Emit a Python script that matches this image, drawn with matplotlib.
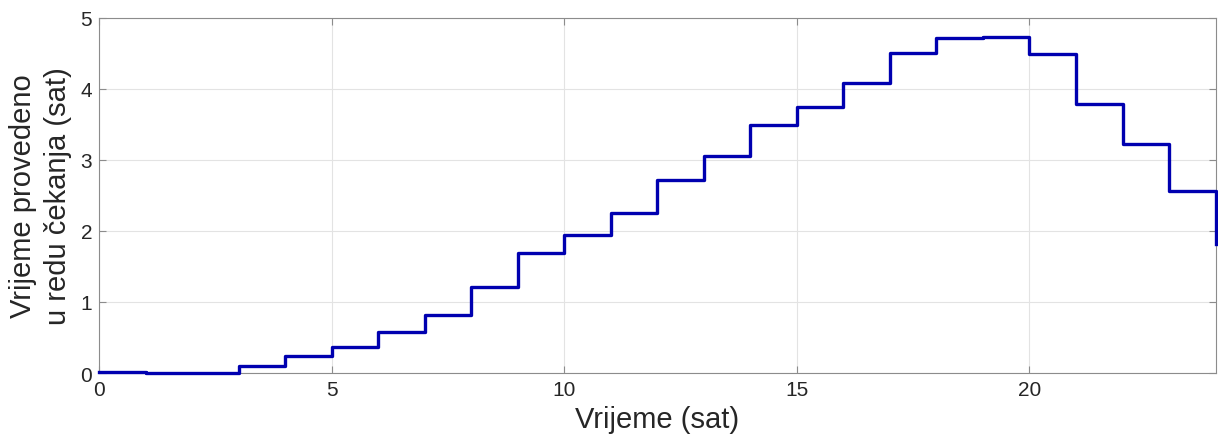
import numpy as np
import matplotlib.pyplot as plt

#===========================================
# data
hours = list(range(25))
wait = [0.01, 0.0, 0.0, 0.10, 0.24, 0.36, 0.58, 0.81, 1.21, 1.69,
        1.94, 2.25, 2.72, 3.05, 3.49, 3.75, 4.08, 4.50, 4.71, 4.73,
        4.49, 3.79, 3.22, 2.56, 1.82]
xticks = [0, 5, 10, 15, 20]
yticks = [0, 1, 2, 3, 4, 5]
#===========================================

plt.rcParams['font.family'] = ['Liberation Sans', 'DejaVu Sans']

fig = plt.figure(figsize=(12.18, 4.39), dpi=100)
ax = fig.add_axes([0.0813, 0.148, 0.9167, 0.809])

ax.plot(hours, wait, drawstyle='steps-post', color='#0000b0', lw=2.4,
        clip_on=False, zorder=3)

ax.set_xlim(0, 24)
ax.set_ylim(0, 5)
ax.set_xticks(xticks)
ax.set_yticks(yticks)
ax.grid(True, color='#e3e3e3', lw=0.8)
ax.set_axisbelow(True)

for s in ax.spines.values():
    s.set_color('#8c8c8c')
    s.set_linewidth(0.8)
ax.tick_params(direction='in', top=True, right=True, length=5,
               color='#8c8c8c', labelsize=15, labelcolor='#262626', pad=5)

ax.set_xlabel('Vrijeme (sat)', fontsize=21, color='#262626', labelpad=4)
ax.set_ylabel('Vrijeme provedeno\nu redu čekanja (sat)', fontsize=21,
              color='#262626', labelpad=6, linespacing=1.3)

fig.savefig('out.png', dpi=100)
